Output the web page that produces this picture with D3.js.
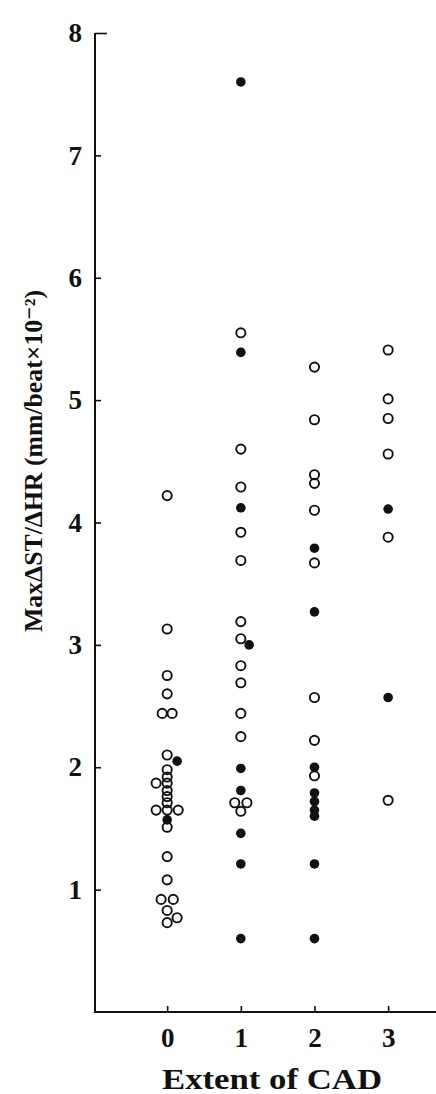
<!DOCTYPE html>
<html>
<head>
<meta charset="utf-8">
<script src="https://cdn.jsdelivr.net/npm/d3@7"></script>
<style>
  body { margin: 0; background: #fff; }
  text { font-family: "Liberation Serif", "DejaVu Serif", serif; font-weight: bold; fill: #111; }
</style>
</head>
<body>
<svg id="chart" width="436" height="1094"></svg>
<script>
// Extent of coronary artery disease (number of diseased vessels)
const extentCategories = [0, 1, 2, 3];
const yTickValues = [1, 2, 3, 4, 5, 6, 7, 8];

// MaxΔST/ΔHR per patient; open = one marker type, filled = the other.
// Dodge arrays give the side-by-side slot used where markers coincide.
const cad0Open = [4.22, 3.13, 2.75, 2.60, 2.44, 2.44, 2.10, 1.98, 1.92, 1.87, 1.87, 1.81, 1.76, 1.71, 1.65, 1.65, 1.65, 1.51, 1.27, 1.08, 0.92, 0.92, 0.83, 0.77, 0.73];
const cad0OpenDodge = [0, 0, 0, 0, -0.45, 0.45, 0, 0, 0, 0, -1, 0, 0, 0, -1, 0, 1, 0, 0, 0, -0.55, 0.55, 0, 0.9, 0];
const cad0Filled = [2.05, 1.57];
const cad0FilledDodge = [0.9, 0];

const cad1Open = [5.55, 4.60, 4.29, 3.92, 3.69, 3.19, 3.05, 2.83, 2.69, 2.44, 2.25, 1.71, 1.71, 1.64];
const cad1OpenDodge = [0, 0, 0, 0, 0, 0, 0, 0, 0, 0, 0, -0.55, 0.55, 0];
const cad1Filled = [7.60, 5.39, 4.12, 3.00, 1.99, 1.81, 1.46, 1.21, 0.60];
const cad1FilledDodge = [0, 0, 0, 0.75, 0, 0, 0, 0, 0];

const cad2Open = [5.27, 4.84, 4.39, 4.32, 4.10, 3.67, 2.57, 2.22, 1.93];
const cad2OpenDodge = [0, 0, 0, 0, 0, 0, 0, 0, 0];
const cad2Filled = [3.79, 3.27, 2.00, 1.79, 1.72, 1.65, 1.60, 1.21, 0.60];
const cad2FilledDodge = [0, 0, 0, 0, 0, 0, 0, 0, 0];

const cad3Open = [5.41, 5.01, 4.85, 4.56, 3.88, 1.73];
const cad3OpenDodge = [0, 0, 0, 0, 0, 0];
const cad3Filled = [4.11, 2.57];
const cad3FilledDodge = [0, 0];

const openGroups = [cad0Open, cad1Open, cad2Open, cad3Open];
const openDodges = [cad0OpenDodge, cad1OpenDodge, cad2OpenDodge, cad3OpenDodge];
const filledGroups = [cad0Filled, cad1Filled, cad2Filled, cad3Filled];
const filledDodges = [cad0FilledDodge, cad1FilledDodge, cad2FilledDodge, cad3FilledDodge];

const slot = 0.15; // dodge step, in category units

function toPoints(groups, dodges) {
  const pts = [];
  groups.forEach((vals, gi) => {
    vals.forEach((v, i) => pts.push({ cat: extentCategories[gi], value: v, dodge: dodges[gi][i] }));
  });
  return pts;
}
const openPoints = toPoints(openGroups, openDodges);
const filledPoints = toPoints(filledGroups, filledDodges);

const svg = d3.select("#chart");
const x = d3.scaleLinear().domain([-0.98, 3.65]).range([95, 436]);
const y = d3.scaleLinear().domain([0, 8]).range([1012, 33]);

// Y axis: ticks point inward
const yAxis = svg.append("g")
  .attr("transform", `translate(${x.range()[0]},0)`)
  .call(d3.axisLeft(y).tickValues(yTickValues).tickFormat(d3.format("d"))
    .tickSizeInner(-6).tickSizeOuter(0).tickPadding(13));
yAxis.select(".domain").remove();
yAxis.append("line")
  .attr("x1", 0).attr("x2", 0).attr("y1", y(8)).attr("y2", y(0))
  .attr("stroke", "#111").attr("stroke-width", 2);
yAxis.selectAll(".tick line").attr("stroke", "#111").attr("stroke-width", 1.6)
  .attr("x2", d => d === 8 ? 12 : 6);
yAxis.selectAll(".tick text")
  .style("font-size", "27px").style("font-family", "Liberation Serif, serif").style("font-weight", "bold")
  .attr("fill", "#111");

// X axis: ticks point inward
const xAxis = svg.append("g")
  .attr("transform", `translate(0,${y(0)})`)
  .call(d3.axisBottom(x).tickValues(extentCategories).tickFormat(d3.format("d"))
    .tickSizeInner(-6).tickSizeOuter(0).tickPadding(16));
xAxis.select(".domain").remove();
xAxis.append("line")
  .attr("x1", x.range()[0] - 1).attr("x2", x.range()[1]).attr("y1", 0).attr("y2", 0)
  .attr("stroke", "#111").attr("stroke-width", 2);
xAxis.selectAll(".tick line").attr("stroke", "#111").attr("stroke-width", 1.6);
xAxis.selectAll(".tick text")
  .style("font-size", "27px").style("font-family", "Liberation Serif, serif").style("font-weight", "bold")
  .attr("fill", "#111");

// Axis titles
svg.append("text")
  .attr("x", 162).attr("y", 1089)
  .attr("textLength", 220).attr("lengthAdjust", "spacingAndGlyphs")
  .style("font-size", "29px")
  .text("Extent of CAD");

svg.append("text")
  .attr("transform", "translate(42,632) rotate(-90)")
  .attr("textLength", 342).attr("lengthAdjust", "spacingAndGlyphs")
  .style("font-size", "25px")
  .text("MaxΔST/ΔHR (mm/beat×10⁻²)");

// Markers
svg.append("g").selectAll("circle.open")
  .data(openPoints).join("circle")
  .attr("class", "open")
  .attr("cx", d => x(d.cat + d.dodge * slot))
  .attr("cy", d => y(d.value))
  .attr("r", 4.6)
  .attr("fill", "none")
  .attr("stroke", "#111")
  .attr("stroke-width", 1.9);

svg.append("g").selectAll("circle.filled")
  .data(filledPoints).join("circle")
  .attr("class", "filled")
  .attr("cx", d => x(d.cat + d.dodge * slot))
  .attr("cy", d => y(d.value))
  .attr("r", 4.8)
  .attr("fill", "#111");
</script>
</body>
</html>
